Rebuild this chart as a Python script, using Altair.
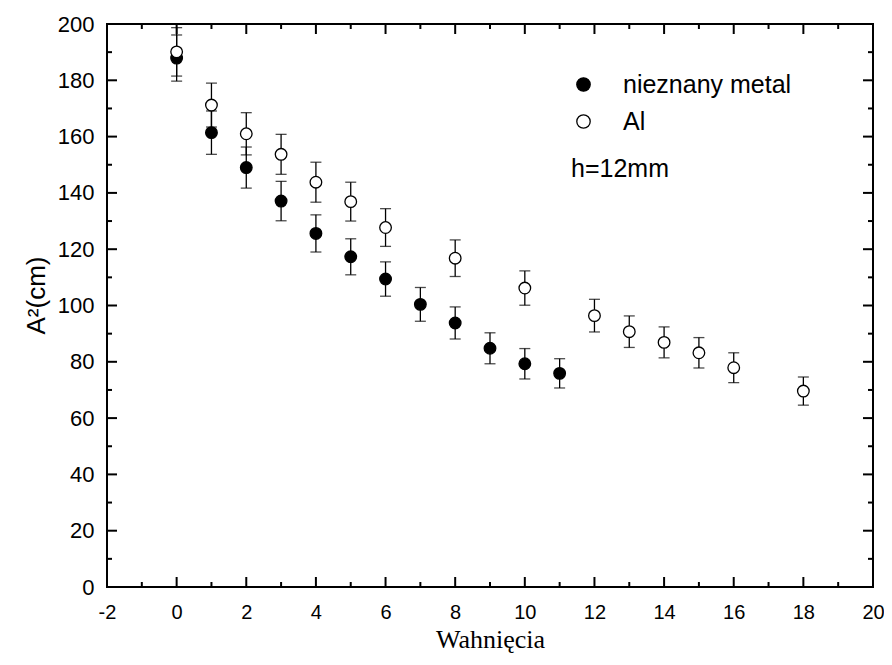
import altair as alt
import pandas as pd

# --- data ---
x_metal = [0, 1, 2, 3, 4, 5, 6, 7, 8, 9, 10, 11]
y_metal = [187.9, 161.4, 149.0, 137.1, 125.6, 117.3, 109.4, 100.4, 93.8, 84.8, 79.3, 75.9]
e_metal = [8.2, 7.7, 7.3, 7.0, 6.6, 6.4, 6.1, 6.0, 5.7, 5.5, 5.4, 5.2]

x_al = [0, 1, 2, 3, 4, 5, 6, 8, 10, 12, 13, 14, 15, 16, 18]
y_al = [190.1, 171.2, 161.0, 153.7, 143.8, 136.9, 127.7, 116.8, 106.2, 96.4, 90.7, 86.9, 83.2, 77.9, 69.6]
e_al = [8.6, 7.8, 7.5, 7.1, 7.1, 6.9, 6.7, 6.5, 6.1, 5.8, 5.6, 5.5, 5.4, 5.3, 5.0]

series_names = ["nieznany metal", "Al"]
x_tick_labels = list(range(-2, 21, 2))
x_minor = list(range(-1, 20, 2))
y_tick_labels = list(range(0, 201, 20))
y_minor = list(range(10, 200, 20))

W, H = 766, 563

rows = []
for x, y, e in zip(x_metal, y_metal, e_metal):
    rows.append({"x": x, "y": y, "lo": y - e, "hi": y + e, "s": series_names[0]})
for x, y, e in zip(x_al, y_al, e_al):
    rows.append({"x": x, "y": y, "lo": y - e, "hi": y + e, "s": series_names[1]})
df = pd.DataFrame(rows)

xs = alt.Scale(domain=[-2, 20], nice=False, zero=False)
ys = alt.Scale(domain=[0, 200], nice=False, zero=False)

FONT = "Liberation Sans, Arial, Helvetica, sans-serif"

xaxis = alt.Axis(values=x_tick_labels, ticks=False, domain=False, grid=False,
                 labelFontSize=20, labelFont=FONT, labelColor="black", labelPadding=15,
                 labelFlush=False, labelExpr="'' + datum.value",
                 title="Wahnięcia", titleFont="Liberation Serif, Times New Roman, serif",
                 titleFontSize=26, titleFontWeight="normal", titleColor="black",
                 titleY=60, titleBaseline="alphabetic")
yaxis = alt.Axis(values=y_tick_labels, ticks=False, domain=False, grid=False,
                 labelFontSize=22, labelFont=FONT, labelColor="black", labelPadding=13,
                 labelFlush=False,
                 title="A²(cm)", titleFont=FONT, titleFontSize=26, titleFontWeight="normal",
                 titleColor="black", titleX=-63, titleY=271, titleAngle=270,
                 titleAlign="center", titleBaseline="alphabetic")

base = alt.Chart(df)

bars = base.mark_rule(color="black", strokeWidth=1.3).encode(
    x=alt.X("x:Q", scale=xs, axis=xaxis),
    y=alt.Y("lo:Q", scale=ys, axis=yaxis),
    y2="hi:Q",
)
cap_lo = base.mark_tick(orient="horizontal", size=11, thickness=1.3, color="black").encode(
    x=alt.X("x:Q", scale=xs), y=alt.Y("lo:Q", scale=ys))
cap_hi = base.mark_tick(orient="horizontal", size=11, thickness=1.3, color="black").encode(
    x=alt.X("x:Q", scale=xs), y=alt.Y("hi:Q", scale=ys))

points = base.mark_point(filled=True, size=135, stroke="black", strokeWidth=1.3, opacity=1).encode(
    x=alt.X("x:Q", scale=xs),
    y=alt.Y("y:Q", scale=ys),
    fill=alt.Fill("s:N", scale=alt.Scale(domain=series_names, range=["black", "white"]),
                  legend=alt.Legend(orient="none", legendX=464, legendY=48, padding=0,
                                    title="h=12mm", titleOrient="bottom", titleFontSize=25,
                                    titleFont=FONT, titleFontWeight="normal", titleColor="black",
                                    titlePadding=22, labelFontSize=25, labelFont=FONT,
                                    labelColor="black", labelOffset=27, labelLimit=0,
                                    rowPadding=11,
                                    symbolType="circle", symbolSize=180,
                                    symbolStrokeColor="black", symbolStrokeWidth=1.3,
                                    symbolOpacity=1)),
)

# inward ticks on all four sides
dxm = pd.DataFrame({"v": x_tick_labels})
dxn = pd.DataFrame({"v": x_minor})
dym = pd.DataFrame({"v": y_tick_labels})
dyn = pd.DataFrame({"v": y_minor})

def xticks(d, L):
    c = alt.Chart(d)
    b = c.mark_rule(color="black", strokeWidth=2).encode(
        x=alt.X("v:Q", scale=xs), y=alt.value(H), y2=alt.value(H - L))
    t = c.mark_rule(color="black", strokeWidth=2).encode(
        x=alt.X("v:Q", scale=xs), y=alt.value(0), y2=alt.value(L))
    return [b, t]

def yticks(d, L):
    c = alt.Chart(d)
    l = c.mark_rule(color="black", strokeWidth=2).encode(
        y=alt.Y("v:Q", scale=ys), x=alt.value(0), x2=alt.value(L))
    r = c.mark_rule(color="black", strokeWidth=2).encode(
        y=alt.Y("v:Q", scale=ys), x=alt.value(W), x2=alt.value(W - L))
    return [l, r]

ticks = xticks(dxm, 10) + xticks(dxn, 5) + yticks(dym, 10) + yticks(dyn, 5)

chart = alt.layer(bars, cap_lo, cap_hi, points, *ticks).properties(
    width=W, height=H,
    autosize=alt.AutoSizeParams(type="none"),
    padding={"left": 99, "top": 16, "right": 11, "bottom": 66},
    background="white",
).configure_view(stroke="black", strokeWidth=2)

chart.save("out.html", embed_options={"renderer": "svg", "actions": False})
